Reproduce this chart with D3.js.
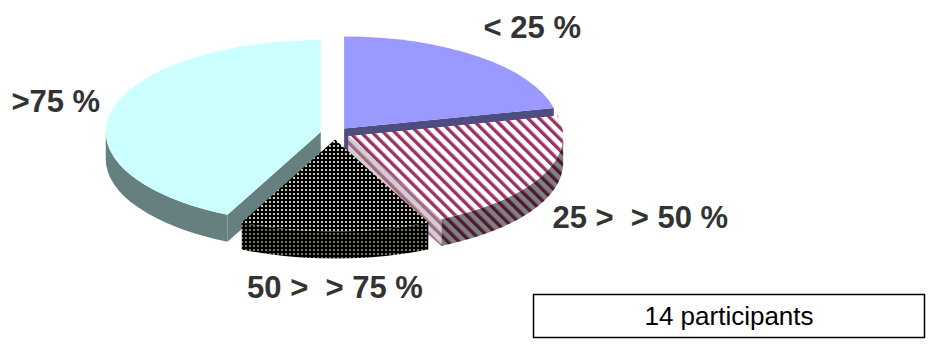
<!DOCTYPE html>
<html>
<head>
  <meta charset="utf-8">
  <script src="https://d3js.org/d3.v7.min.js"></script>
  <style type="text/css">
    body { margin: 0; background-color: #ffffff; }
    svg { display: block; }
    .lbl { font-family: 'Liberation Sans', Arial, sans-serif; font-weight: bold; font-size: 31px; fill: #333333; white-space: pre; }
    .note { font-family: 'Liberation Sans', Arial, sans-serif; font-size: 26px; fill: #000000; }
  </style>
</head>
<body>
<div id="chart"></div>

<script>
  // data (counts out of 14)
  var categories = ["< 25 %", "25 >  > 50 %", "50 >  > 75 %", ">75 %"];
  var counts = [3, 3, 2, 6];

  var W = 928, H = 345;
  var cx = 335, cy = 133.3, rx = 215, ry = 92, depth = 27, explode = 0.068;

  var svg = d3.select("#chart").append("svg").attr("width", W).attr("height", H);
  var defs = svg.append("defs");

  // hatch patterns
  function stripes(id, bg, fg) {
    var p = defs.append("pattern").attr("id", id).attr("patternUnits", "userSpaceOnUse")
      .attr("width", 8).attr("height", 8).attr("patternTransform", "rotate(-45)");
    p.append("rect").attr("width", 8).attr("height", 8).attr("fill", bg);
    p.append("rect").attr("width", 3.4).attr("height", 8).attr("fill", fg);
  }
  function dots(id, bg, fg) {
    var p = defs.append("pattern").attr("id", id).attr("patternUnits", "userSpaceOnUse")
      .attr("width", 4).attr("height", 4);
    p.append("rect").attr("width", 4).attr("height", 4).attr("fill", bg);
    p.append("rect").attr("x", 1).attr("y", 1).attr("width", 2).attr("height", 2).attr("fill", fg);
  }
  stripes("stripeTop", "#ffffff", "#993366");
  stripes("stripeSide", "#808080", "#4d1933");
  stripes("stripeCut", "#d0d0d0", "#a86688");
  dots("dotTop", "#000000", "#cacaa2");
  dots("dotSide", "#000000", "#76765c");

  var topFill = ["#9999ff", "url(#stripeTop)", "url(#dotTop)", "#ccffff"];
  var sideFill = ["#4d4d80", "url(#stripeSide)", "url(#dotSide)", "#668080"];
  var cutFill = ["#4d4d80", "url(#stripeCut)", "url(#dotSide)", "#668080"];

  var pie = d3.pie().sort(null).value(function (d) { return d; });
  var slices = pie(counts).map(function (a, i) {
    var m = (a.startAngle + a.endAngle) / 2;
    a.i = i;
    a.m = m;
    a.ox = cx + explode * rx * Math.sin(m);
    a.oy = cy - explode * ry * Math.cos(m);
    return a;
  });

  function pt(s, a, dz) {
    return [s.ox + rx * Math.sin(a), s.oy - ry * Math.cos(a) + (dz || 0)];
  }

  // back slices first
  var order = slices.slice().sort(function (a, b) { return -Math.cos(a.m) + Math.cos(b.m); });

  order.forEach(function (s) {
    var g = svg.append("g");
    // radial cut faces
    [[s.startAngle, Math.sin(s.startAngle) < -1e-6], [s.endAngle, Math.sin(s.endAngle) > 1e-6]].forEach(function (c) {
      if (!c[1]) return;
      g.append("path")
        .attr("d", "M" + s.ox + "," + s.oy + "L" + pt(s, c[0]) + "L" + pt(s, c[0], depth) + "L" + s.ox + "," + (s.oy + depth) + "Z")
        .attr("fill", cutFill[s.i]);
    });
    // outer wall
    var b0 = Math.max(s.startAngle, Math.PI / 2), b1 = Math.min(s.endAngle, 3 * Math.PI / 2);
    if (b1 > b0) {
      g.append("path")
        .attr("d", "M" + pt(s, b0) + "A" + rx + "," + ry + " 0 0 1 " + pt(s, b1) +
          "L" + pt(s, b1, depth) + "A" + rx + "," + ry + " 0 0 0 " + pt(s, b0, depth) + "Z")
        .attr("fill", sideFill[s.i]);
    }
    // top face
    var large = (s.endAngle - s.startAngle) > Math.PI ? 1 : 0;
    g.append("path")
      .attr("d", "M" + s.ox + "," + s.oy + "L" + pt(s, s.startAngle) + "A" + rx + "," + ry + " 0 " + large + " 1 " + pt(s, s.endAngle) + "Z")
      .attr("fill", topFill[s.i]);
  });

  // labels: base spot on a wider ellipse, nudged like the original
  var lrx = 310, lry = 150;
  var nudge = [[4, 22], [26, 30], [0, 15], [23, 12]];
  svg.selectAll("text.lbl").data(slices).enter().append("text")
    .attr("class", "lbl")
    .attr("text-anchor", "middle")
    .attr("x", function (d) { return cx + lrx * Math.sin(d.m) + nudge[d.i][0]; })
    .attr("y", function (d) { return cy - lry * Math.cos(d.m) + nudge[d.i][1]; })
    .text(function (d) { return categories[d.i]; });

  // participants box
  svg.append("rect").attr("x", 533.5).attr("y", 294.5).attr("width", 391).attr("height", 43)
    .attr("fill", "#ffffff").attr("stroke", "#000000").attr("stroke-width", 1.5);
  svg.append("text").attr("class", "note").attr("x", 729).attr("y", 325).attr("text-anchor", "middle")
    .text(d3.sum(counts) + " participants");
</script>
</body>
</html>
